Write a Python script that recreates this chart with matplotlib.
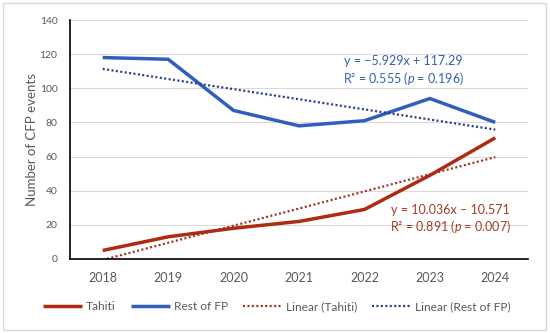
import matplotlib
matplotlib.use("Agg")
import matplotlib.pyplot as plt
from matplotlib.patches import Rectangle
import numpy as np

plt.rcParams["font.family"] = ["Lato", "DejaVu Sans"]
plt.rcParams["mathtext.fontset"] = "custom"
plt.rcParams["mathtext.it"] = "Lato:italic"
plt.rcParams["mathtext.rm"] = "Lato"

years = ["2018", "2019", "2020", "2021", "2022", "2023", "2024"]
tahiti = [5, 13, 18, 22, 29, 49, 71]
rest_fp = [118, 117, 87, 78, 81, 94, 80]

red = "#AE2A12"
red_trend = "#9C3220"
red_text = "#A03C28"
blue = "#2F5EBD"
blue_trend = "#25398F"
blue_text = "#3462B2"
gray = "#595959"

x = np.arange(1, len(years) + 1)
fit_t = np.polyfit(x, tahiti, 1)
fit_r = np.polyfit(x, rest_fp, 1)

fig = plt.figure(figsize=(5.5, 3.33), dpi=100)
fig.patches.append(Rectangle((3 / 550, 3 / 333), 543 / 550, 327 / 333, transform=fig.transFigure,
                             fill=False, edgecolor="#D9D9D9", linewidth=1))
ax = fig.add_axes([70 / 550, (333 - 259) / 333, 458 / 550, 239 / 333])

ax.plot(x, tahiti, color=red, lw=2.5, label="Tahiti", solid_capstyle="butt")
ax.plot(x, rest_fp, color=blue, lw=2.5, label="Rest of FP", solid_capstyle="butt")
ax.plot(x, np.polyval(fit_t, x), color=red_trend, lw=1.6, ls=(0, (0.9, 1.1)), label="Linear (Tahiti)")
ax.plot(x, np.polyval(fit_r, x), color=blue_trend, lw=1.6, ls=(0, (0.9, 1.1)), label="Linear (Rest of FP)")

ax.set_xlim(0.5, 7.5)
ax.set_ylim(0, 140)
ax.set_yticks(range(0, 141, 20))
ax.set_xticks(x)
ax.set_xticklabels(years)
ax.grid(axis="y", color="#D9D9D9", lw=0.8)
ax.set_axisbelow(True)
for s in ["top", "right"]:
    ax.spines[s].set_visible(False)
ax.spines["left"].set_color("black")
ax.spines["bottom"].set_color("black")
ax.spines["left"].set_linewidth(1.2)
ax.spines["bottom"].set_linewidth(1.2)
ax.tick_params(axis="both", length=0, colors=gray)
ax.tick_params(axis="x", labelsize=9, pad=9)
ax.tick_params(axis="y", labelsize=7.5, pad=9)
ax.set_ylabel("Number of CFP events", fontsize=9.5, color=gray, labelpad=1)

ax.text(5.60, 115.8, "y = \u22125.929x + 117.29", color=blue_text, fontsize=9,
        ha="center", va="center")
ax.text(5.60, 105.8, "R\u00b2 = 0.555 ($\\it{p}$ = 0.196)", color=blue_text, fontsize=9,
        ha="center", va="center")
ax.text(6.31, 28.8, "y = 10.036x \u2212 10.571", color=red_text, fontsize=9,
        ha="center", va="center")
ax.text(6.31, 18.8, "R\u00b2 = 0.891 ($\\it{p}$ = 0.007)", color=red_text, fontsize=9,
        ha="center", va="center")

fig.legend(loc="center", bbox_to_anchor=(0.503, (333 - 307) / 333), ncol=4, frameon=False,
           fontsize=8.6, labelcolor=gray, handlelength=3.3, columnspacing=1.25, handletextpad=0.3)

fig.savefig("out.png", dpi=100)
